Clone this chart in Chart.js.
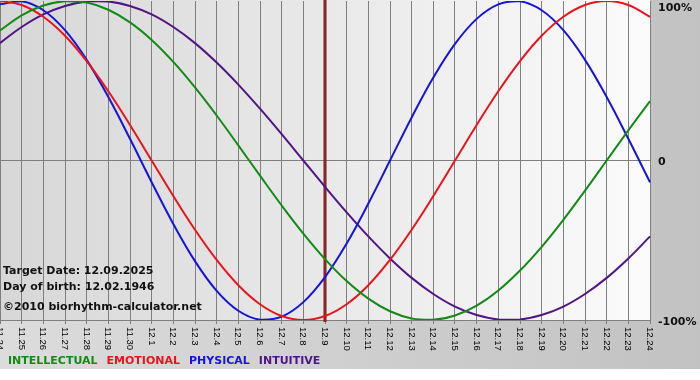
<!DOCTYPE html>
<html><head><meta charset="utf-8">
<script src="https://cdn.jsdelivr.net/npm/chart.js@4/dist/chart.umd.min.js"></script>
<style>html,body{margin:0;padding:0;background:#fff;}#wrap{width:700px;height:380px;position:relative}</style>
</head><body><div id="wrap"><canvas id="c" width="700" height="380"></canvas></div>
<script>
const days = ['11.24','11.25','11.26','11.27','11.28','11.29','11.30','12.1','12.2','12.3','12.4','12.5','12.6','12.7','12.8','12.9','12.10','12.11','12.12','12.13','12.14','12.15','12.16','12.17','12.18','12.19','12.20','12.21','12.22','12.23','12.24'];
const intellectual = [81.5,91.0,97.2,99.9,99.0,94.5,86.6,75.6,61.8,45.8,28.2,9.5,-9.5,-28.2,-45.8,-61.8,-75.6,-86.6,-94.5,-99.0,-99.9,-97.2,-91.0,-81.5,-69.0,-54.1,-37.2,-18.9,0,18.9,37.2];
const emotional = [100,97.5,90.1,78.2,62.3,43.4,22.3,0,-22.3,-43.4,-62.3,-78.2,-90.1,-97.5,-100,-97.5,-90.1,-78.2,-62.3,-43.4,-22.3,0,22.3,43.4,62.3,78.2,90.1,97.5,100,97.5,90.1];
const physical = [97.9,99.8,94.2,81.7,63.1,39.8,13.6,-13.6,-39.8,-63.1,-81.7,-94.2,-99.8,-97.9,-88.8,-73.1,-52.0,-27.0,0,27.0,52.0,73.1,88.8,97.9,99.8,94.2,81.7,63.1,39.8,13.6,-13.6];
const intuitive = [73.6,83.7,91.6,96.9,99.7,99.7,96.9,91.6,83.7,73.6,61.4,47.6,32.5,16.5,0,-16.5,-32.5,-47.6,-61.4,-73.6,-83.7,-91.6,-96.9,-99.7,-99.7,-96.9,-91.6,-83.7,-73.6,-61.4,-47.6];
const seriesNames = ['INTELLECTUAL','EMOTIONAL','PHYSICAL','INTUITIVE'];
const seriesColors = ['#138a13','#e8141c','#1515d6','#4e1684'];
const yTickValues = [100, 0, -100];
const yTickLabels = ['100%', '0', '-100%'];
const targetDay = '12.9';
const infoLines = ['Target Date: 12.09.2025', 'Day of birth: 12.02.1946', '\u00A92010 biorhythm-calculator.net'];

const decor = {
  id: 'decor',
  beforeDraw(chart) {
    const ctx = chart.ctx, a = chart.chartArea;
    ctx.save();
    let g = ctx.createLinearGradient(0, 0, 700, 0);
    g.addColorStop(0, '#dcdcdc'); g.addColorStop(1, '#c2c2c2');
    ctx.fillStyle = g; ctx.fillRect(0, 0, 700, 380);
    ctx.fillStyle = '#ffffff'; ctx.fillRect(0, 369, 700, 11);
    g = ctx.createLinearGradient(a.left, 0, a.right, 0);
    g.addColorStop(0, '#d7d7d7'); g.addColorStop(1, '#fbfbfb');
    ctx.fillStyle = g; ctx.fillRect(a.left, 0, a.right - a.left, a.bottom);
    ctx.restore();
  },
  beforeDatasetsDraw(chart) {
    const ctx = chart.ctx, a = chart.chartArea;
    const x = Math.round(chart.scales.x.getPixelForValue(days.indexOf(targetDay)));
    ctx.save();
    ctx.fillStyle = '#6e1f1f'; ctx.fillRect(x - 1.5, 0, 3, a.bottom + 2);
    ctx.fillStyle = '#b02a2a'; ctx.fillRect(x - 0.5, 0, 1, a.bottom + 2);
    ctx.restore();
  },
  afterDraw(chart) {
    const ctx = chart.ctx, a = chart.chartArea;
    const xs = chart.scales.x, ys = chart.scales.y;
    ctx.save();
    ctx.fillStyle = '#000';
    ctx.font = '9.5px "Liberation Sans"';
    ctx.textAlign = 'left'; ctx.textBaseline = 'middle';
    days.forEach((d, i) => {
      const x = xs.getPixelForValue(i);
      ctx.save(); ctx.translate(x, a.bottom + 7); ctx.rotate(Math.PI / 2);
      ctx.fillText(d, 0, 0.5); ctx.restore();
    });
    ctx.font = 'bold 11px "DejaVu Sans"';
    ctx.fillStyle = '#111';
    yTickValues.forEach((v, i) => {
      let y = ys.getPixelForValue(v) + 2;
      if (i === 0) y = 8;
      ctx.fillText(yTickLabels[i], a.right + 8, y);
    });
    ctx.fillText(infoLines[0], 3, 271);
    ctx.fillText(infoLines[1], 3, 287);
    ctx.fillText(infoLines[2], 3, 307);
    let lx = 8;
    seriesNames.forEach((n, i) => {
      ctx.fillStyle = seriesColors[i];
      ctx.fillText(n, lx, 361);
      lx += ctx.measureText(n).width + 9;
    });
    ctx.restore();
  }
};

const mk = (i, data) => ({label: seriesNames[i], data, borderColor: seriesColors[i], borderWidth: 2, pointRadius: 0, tension: 0.4, fill: false});

new Chart(document.getElementById('c'), {
  type: 'line',
  data: { labels: days, datasets: [mk(0, intellectual), mk(1, emotional), mk(2, physical), mk(3, intuitive)] },
  options: {
    responsive: false, animation: false, devicePixelRatio: 1,
    layout: { padding: { top: 1, left: 0, right: 0, bottom: 0 } },
    plugins: { legend: { display: false }, tooltip: { enabled: false } },
    scales: {
      x: {
        offset: false,
        ticks: { display: false, autoSkip: false },
        grid: { color: '#7f7f7f', lineWidth: 1, tickLength: 4, drawTicks: true },
        border: { display: false },
        afterFit(s) { s.height = 60; }
      },
      y: {
        position: 'right', min: -100, max: 100,
        ticks: { display: false, stepSize: 100 },
        grid: { color: (c) => (c.tick && c.tick.value === 100) ? 'rgba(0,0,0,0)' : '#7f7f7f', lineWidth: 1, drawTicks: false },
        border: { display: false },
        afterFit(s) { s.width = 50; }
      }
    }
  },
  plugins: [decor]
});
</script>
</body></html>
